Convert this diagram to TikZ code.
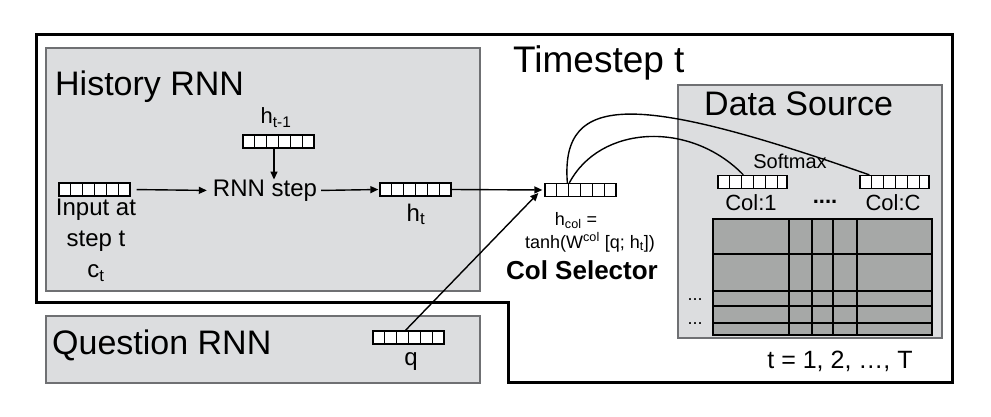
\documentclass[tikz,border=0pt]{standalone}
\usepackage{fontspec}
\setmainfont{Liberation Sans}
\usetikzlibrary{arrows.meta}
\definecolor{boxgray}{HTML}{DCDDDF}
\definecolor{edgegray}{HTML}{6F7073}
\definecolor{cellgray}{HTML}{A6A8A7}
\tikzset{
    vecbox/.style={draw, fill=white, line width=1.3pt, minimum width=71pt, minimum height=13pt, inner sep=0pt,
        path picture={\foreach \k in {1,...,5}
            \draw[line width=1.3pt] ([xshift=\k*71pt/6]path picture bounding box.north west) -- ([xshift=\k*71pt/6]path picture bounding box.south west);}},
    graybox/.style={fill=boxgray, draw=edgegray, line width=1.7pt},
    arr/.style={line width=1.4pt, -{Triangle[length=8pt,width=7pt]}},
    link/.style={line width=1.4pt},
    boxtitle/.style={font=\fontsize{34}{40}\selectfont, inner sep=0pt, anchor=base west},
    lbl/.style={font=\fontsize{24}{31}\selectfont, inner sep=0pt, anchor=base},
    smalltext/.style={font=\fontsize{18}{22}\selectfont, inner sep=0pt, anchor=base}
}
\begin{document}
\begin{tikzpicture}[x=1pt,y=-1pt]
        \useasboundingbox (0,0) rectangle (991,417);
        % Timestep frame
        \draw[line width=3pt] (36,35) -- (952,35) -- (952,382) -- (508,382) -- (508,302) -- (36,302) -- cycle;
        \node[boxtitle, font=\fontsize{37}{42}\selectfont] (tstep) at (513,73) {Timestep t};
        % History RNN
        \draw[graybox] (46,48) rectangle (480,291);
        \node[boxtitle] (hist) at (55,96) {History RNN};
        \node[vecbox] (vin) at (94.5,189.5) {};
        \node[lbl, anchor=north, align=center] (cin) at (96,199) {Input at\\step t\\c\textsubscript{t}};
        \node[vecbox] (vprev) at (278.5,141.5) {};
        \node[lbl, font=\fontsize{22}{26}\selectfont] (hprev) at (276,124) {h\textsubscript{t-1}};
        \node[lbl, anchor=center] (step) at (265,190.5) {RNN step};
        \node[vecbox] (vht) at (415.5,189.5) {};
        \node[lbl] (ht) at (416,221) {h\textsubscript{t}};
        \draw[arr, shorten <=6pt, shorten >=6pt] (vin.east) -- (step.west);
        \draw[arr] ([xshift=-4.5pt]vprev.south) -- ([xshift=-4.5pt]vprev.south |- step.north);
        \draw[arr, shorten <=4pt, shorten >=1pt] (step.east) -- (vht.west);
        % Question RNN
        \draw[graybox] (46,316) rectangle (480,383);
        \node[boxtitle] (ques) at (52,354) {Question RNN};
        \node[vecbox] (vq) at (408.5,337.5) {};
        \node[lbl] (q) at (411,365) {q};
        % Col Selector
        \node[vecbox] (vcol) at (580.5,190) {};
        \node[smalltext] (hcol) at (576,225) {h\textsubscript{col} =};
        \node[smalltext] (tanh) at (590,248) {tanh(W\textsuperscript{col} [q; h\textsubscript{t}])};
        \node[lbl, font=\bfseries\fontsize{26}{30}\selectfont] (colsel) at (582,279) {Col Selector};
        \draw[arr, shorten >=2pt] (vht.east) -- (vcol.west);
        \draw[arr] ([xshift=-3pt]vq.north) -- ([xshift=-6pt,yshift=-3pt]vcol.west);
        % Data Source
        \draw[graybox] (678,85) rectangle (942,338);
        \node[boxtitle] (data) at (704,116) {Data Source};
        \node[smalltext, font=\fontsize{20}{24}\selectfont] (soft) at (790,168) {Softmax};
        \node[vecbox, minimum width=69pt] (vc1) at (752.5,182) {};
        \node[vecbox, minimum width=69pt] (vcC) at (894.5,182) {};
        \node[lbl, font=\fontsize{22}{26}\selectfont] (col1) at (751,210) {Col:1};
        \node[lbl, font=\bfseries\fontsize{22}{26}\selectfont] (cdots) at (825,204) {....};
        \node[lbl, font=\fontsize{22}{26}\selectfont] (colC) at (893,210) {Col:C};
        \draw[link] ([xshift=23pt]vcol.north west) .. controls (560,90) and (640,95) .. ([xshift=10pt]vcC.north west);
        \draw[link] ([xshift=25pt]vcol.north west) .. controls (600,125) and (690,120) .. ([xshift=26pt]vc1.north west);
        % table
        \fill[cellgray] (713,219) rectangle (932,335);
        \foreach \x in {789,812,833,857}
            \draw[line width=1.5pt] (\x,219) -- (\x,335);
        \foreach \y in {254,291,306,323}
            \draw[line width=1.5pt] (713,\y) -- (932,\y);
        \draw[line width=1.5pt] (713,219) rectangle (932,335);
        \node[smalltext] (rdots1) at (695,300) {...};
        \node[smalltext] (rdots2) at (695,324) {...};
        \node[lbl, font=\fontsize{25}{30}\selectfont] (trange) at (840,368) {t = 1, 2, …, T};
    \end{tikzpicture}
\end{document}
